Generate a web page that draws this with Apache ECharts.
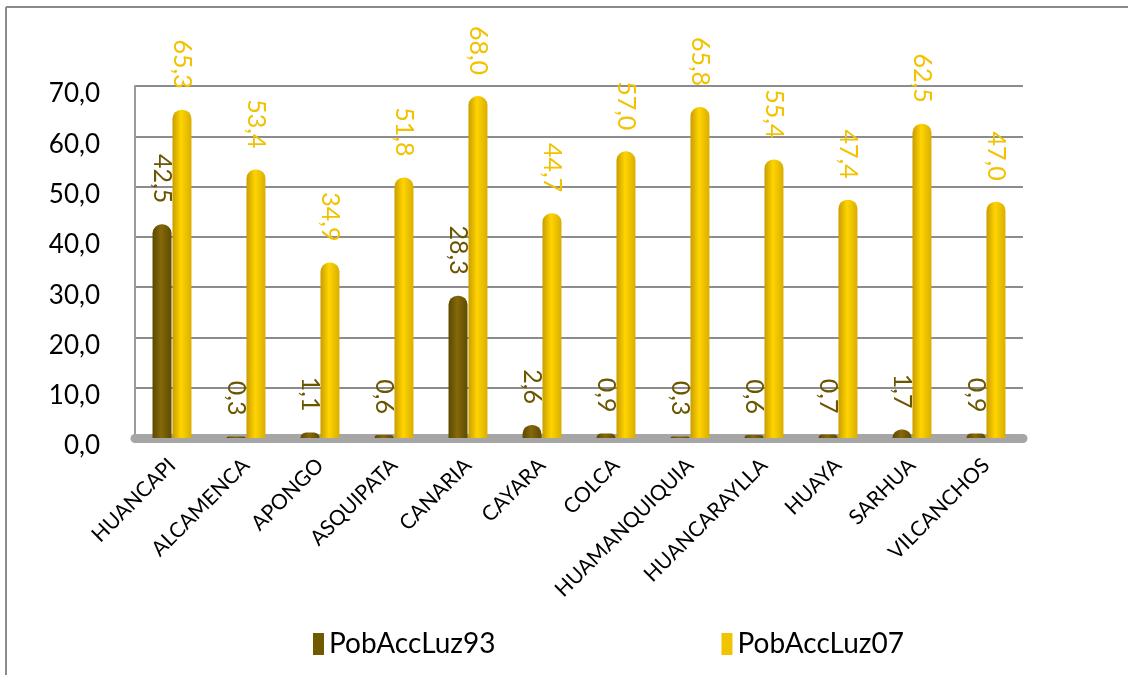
<!DOCTYPE html>
<html>
<head>
<meta charset="utf-8">
<script src="https://cdn.jsdelivr.net/npm/echarts@6/dist/echarts.min.js"></script>
<style>
  html, body { margin: 0; padding: 0; background: #fff; }
  #chart { width: 1128px; height: 675px; }
</style>
</head>
<body>
<div id="chart"></div>
<script>
// datos por distrito
var distritos = ['HUANCAPI', 'ALCAMENCA', 'APONGO', 'ASQUIPATA', 'CANARIA', 'CAYARA',
  'COLCA', 'HUAMANQUIQUIA', 'HUANCARAYLLA', 'HUAYA', 'SARHUA', 'VILCANCHOS'];
var luz93 = [42.5, 0.3, 1.1, 0.6, 28.3, 2.6, 0.9, 0.3, 0.6, 0.7, 1.7, 0.9];
var luz07 = [65.3, 53.4, 34.9, 51.8, 68.0, 44.7, 57.0, 65.8, 55.4, 47.4, 62.5, 47.0];
var yTicks = [0, 10, 20, 30, 40, 50, 60, 70];

var fontName = 'Lato, "Open Sans", sans-serif';

function coma(v) {
  return v.toFixed(1).replace('.', ',');
}

// cilindros: degradado horizontal
function cilindro(c1, c2, c3) {
  return new echarts.graphic.LinearGradient(0, 0, 1, 0, [
    { offset: 0, color: c1 },
    { offset: 0.45, color: c2 },
    { offset: 1, color: c3 }
  ]);
}

function etiqueta(color) {
  return {
    show: true,
    position: 'top',
    rotate: -90,
    align: 'right',
    verticalAlign: 'middle',
    distance: 17,
    offset: [-4, 0],
    fontFamily: fontName,
    fontSize: 25,
    color: color,
    formatter: function (p) { return coma(p.value); }
  };
}

var myChart = echarts.init(document.getElementById('chart'));

var option = {
  backgroundColor: '#fff',
  animation: false,
  grid: { left: 135, right: 105, top: 86, bottom: 237 },
  graphic: [
    { type: 'line', shape: { x1: 6, y1: 7, x2: 1128, y2: 7 }, style: { stroke: '#8a8a8a', lineWidth: 2 } },
    { type: 'line', shape: { x1: 6, y1: 7, x2: 6, y2: 675 }, style: { stroke: '#8a8a8a', lineWidth: 2 } }
  ],
  legend: {
    bottom: 12,
    left: 308,
    itemGap: 226,
    itemWidth: 11,
    itemHeight: 22,
    icon: 'rect',
    textStyle: { fontFamily: fontName, fontSize: 28, color: '#000' },
    data: [
      { name: 'PobAccLuz93', itemStyle: { color: '#705a00' } },
      { name: 'PobAccLuz07', itemStyle: { color: '#f0c400' } }
    ]
  },
  xAxis: {
    type: 'category',
    data: distritos,
    axisLine: { show: true, lineStyle: { color: '#a6a6a6', width: 9 } },
    axisTick: { show: false },
    axisLabel: {
      rotate: 45,
      margin: 24,
      interval: 0,
      fontFamily: fontName,
      fontSize: 21,
      color: '#000'
    }
  },
  yAxis: {
    type: 'value',
    min: yTicks[0],
    max: yTicks[yTicks.length - 1],
    interval: 10,
    axisLine: { show: true, lineStyle: { color: '#9a9a9a', width: 2 } },
    axisTick: { show: false },
    splitLine: { lineStyle: { color: '#8c8c8c', width: 2 } },
    axisLabel: {
      margin: 35,
      verticalAlign: 'top',
      lineHeight: 16,
      fontFamily: fontName,
      fontSize: 26,
      color: '#000',
      formatter: function (v) { return coma(v); }
    }
  },
  series: [
    {
      name: 'PobAccLuz93',
      type: 'bar',
      data: luz93,
      barWidth: 19,
      barGap: '5%',
      itemStyle: { color: cilindro('#5a4700', '#85690a', '#5e4a00'), borderRadius: [9, 9, 0, 0] },
      label: etiqueta('#6b5600')
    },
    {
      name: 'PobAccLuz07',
      type: 'bar',
      data: luz07,
      barWidth: 19,
      itemStyle: { color: cilindro('#c99d00', '#ffd400', '#d9ae00'), borderRadius: [9, 9, 0, 0] },
      label: etiqueta('#f2c200')
    }
  ]
};

myChart.setOption(option);
</script>
</body>
</html>
